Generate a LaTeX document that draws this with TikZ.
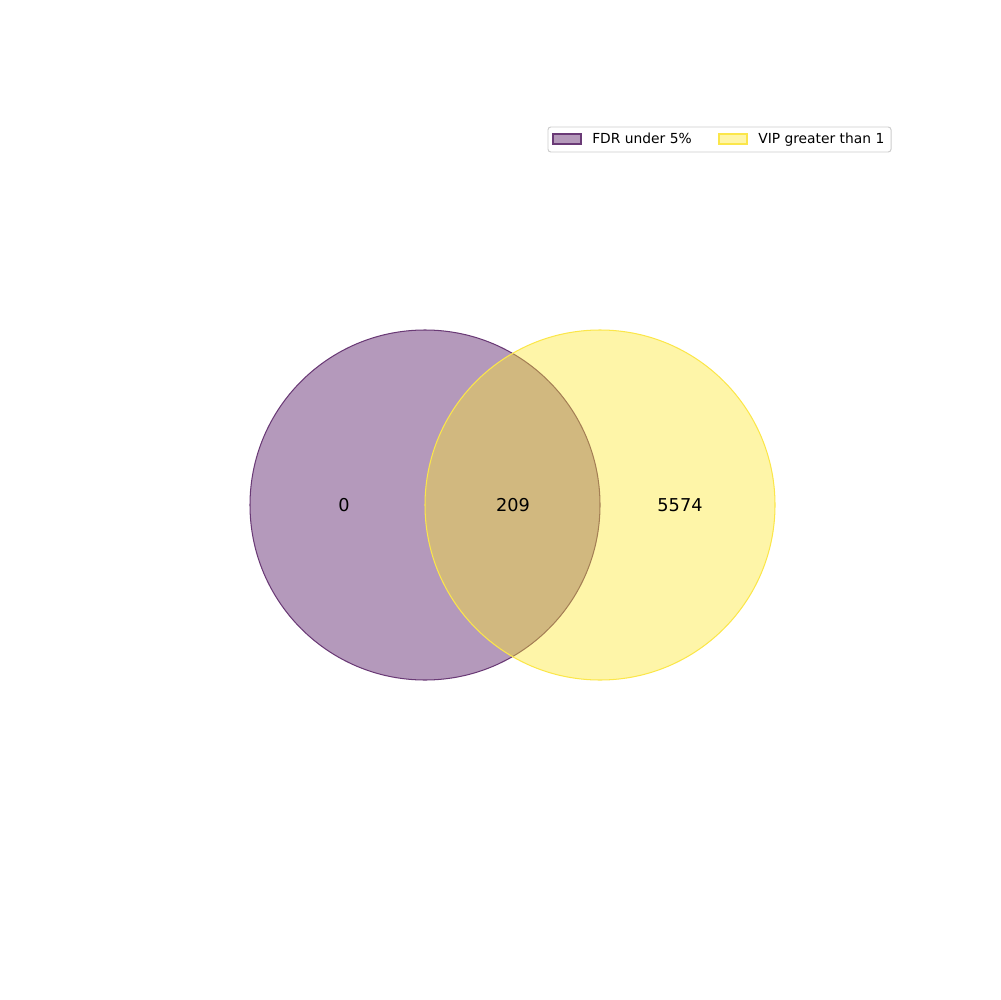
\documentclass[tikz,border=0pt]{standalone}
\usepackage{fontspec}
\setmainfont{DejaVu Sans}
\usepackage{tikz}
\usetikzlibrary{positioning, calc}
\definecolor{fdrpurple}{HTML}{440154}
\definecolor{vipyellow}{HTML}{FDE725}
\definecolor{fdredge}{HTML}{6A3A76}
\definecolor{vipedge}{HTML}{FBE64A}
\definecolor{legendgray}{HTML}{CCCCCC}
\tikzset{
    set circle/.style={circle, draw, line width=0.75pt, line join=round, minimum size=350*0.0254cm, inner sep=0pt, fill opacity=0.4},
    count label/.style={font=\fontsize{12.8}{15}\selectfont, text=black},
    legend box/.style={rectangle, draw=legendgray, fill=white, rounded corners=2pt, line width=0.7pt},
    legend patch/.style={rectangle, draw, line width=0.75pt, fill opacity=0.4, minimum width=28*0.0254cm, minimum height=10*0.0254cm, inner sep=0pt},
    legend text/.style={font=\fontsize{10}{12}\selectfont, anchor=base west, inner sep=0pt}
}
\begin{document}
\begin{tikzpicture}[x=0.0254cm, y=-0.0254cm]
% Two-set Venn diagram with legend.
  \useasboundingbox (0,0) rectangle (1000,1000);
  \node[set circle, draw=fdredge, fill=fdrpurple] (fdr) at (425,505) {};
  \node[set circle, draw=vipedge, fill=vipyellow] (vip) at (600,505) {};
  \node[count label] (onlyfdr) at (344,505) {0};
  \node[count label] (both) at (513,505) {209};
  \node[count label] (onlyvip) at (680,505) {5574};
  \draw[legend box] (548,127) rectangle (891,152);
  \node[legend patch, draw=fdredge, fill=fdrpurple] (fdrpatch) at (567,139) {};
  \node[legend text] (fdrtext) at (592,143.5) {FDR under 5\%};
  \node[legend patch, draw=vipedge, fill=vipyellow] (vippatch) at (733,139) {};
  \node[legend text] (viptext) at (758,143.5) {VIP greater than 1};
\end{tikzpicture}
\end{document}
